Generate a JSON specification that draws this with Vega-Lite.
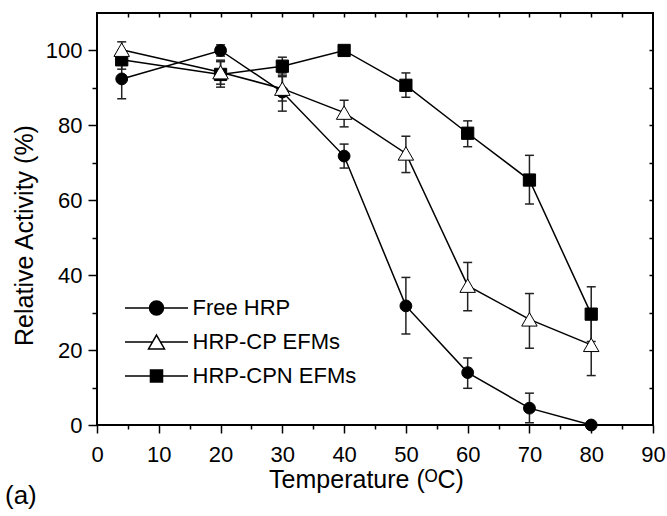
{
  "$schema": "https://vega.github.io/schema/vega-lite/v6.json",
  "width": 556,
  "height": 412,
  "autosize": "none",
  "padding": {"left": 97, "top": 13, "right": 14, "bottom": 91},
  "background": "white",
  "config": {
    "font": "Liberation Sans",
    "view": {"stroke": "black", "strokeWidth": 2},
    "axis": {"labelColor": "black", "titleColor": "black", "tickColor": "black", "domain": false, "grid": false, "labelFont": "Liberation Sans", "titleFont": "Liberation Sans", "titleFontWeight": "normal", "tickWidth": 1.5, "labelFlush": false, "labelOverlap": false},
    "legend": {"orient": "none", "legendX": 48.5, "legendY": 284, "title": null, "labelFontSize": 22, "labelFont": "Liberation Sans", "labelColor": "black", "labelLimit": 400, "symbolSize": 196, "labelOffset": 25, "rowPadding": 12, "padding": 0, "symbolOpacity": 1, "symbolStrokeColor": "black", "symbolStrokeWidth": 1.5}
  },
  "title": {"text": "(a)", "orient": "bottom", "anchor": "start", "frame": "group", "fontSize": 26, "fontWeight": "normal", "font": "Liberation Sans", "color": "black", "baseline": "alphabetic", "offset": 0, "dx": -92, "dy": 12},
  "data": {
    "values": [
      {"T": 4, "s": "Free HRP", "v": 92.4, "lo": 87.1, "hi": 97.7},
      {"T": 20, "s": "Free HRP", "v": 100, "lo": 98.5, "hi": 101.5},
      {"T": 30, "s": "Free HRP", "v": 88.9, "lo": 83.8, "hi": 94},
      {"T": 40, "s": "Free HRP", "v": 71.8, "lo": 68.6, "hi": 75},
      {"T": 50, "s": "Free HRP", "v": 31.8, "lo": 24.3, "hi": 39.4},
      {"T": 60, "s": "Free HRP", "v": 14, "lo": 9.8, "hi": 17.9},
      {"T": 70, "s": "Free HRP", "v": 4.5, "lo": 0.6, "hi": 8.5},
      {"T": 80, "s": "Free HRP", "v": 0, "lo": 0, "hi": 0},
      {"T": 4, "s": "HRP-CPN EFMs", "v": 97.5, "lo": 95, "hi": 100},
      {"T": 20, "s": "HRP-CPN EFMs", "v": 93.6, "lo": 90.2, "hi": 97},
      {"T": 30, "s": "HRP-CPN EFMs", "v": 95.8, "lo": 93.4, "hi": 98.2},
      {"T": 40, "s": "HRP-CPN EFMs", "v": 100, "lo": 99, "hi": 101},
      {"T": 50, "s": "HRP-CPN EFMs", "v": 90.7, "lo": 87.5, "hi": 94},
      {"T": 60, "s": "HRP-CPN EFMs", "v": 77.9, "lo": 74.3, "hi": 81.2},
      {"T": 70, "s": "HRP-CPN EFMs", "v": 65.4, "lo": 59, "hi": 72},
      {"T": 80, "s": "HRP-CPN EFMs", "v": 29.6, "lo": 22.3, "hi": 36.9},
      {"T": 4, "s": "HRP-CP EFMs", "v": 100.2, "lo": 98, "hi": 102.3},
      {"T": 20, "s": "HRP-CP EFMs", "v": 94.2, "lo": 91, "hi": 97.4},
      {"T": 30, "s": "HRP-CP EFMs", "v": 89.8, "lo": 86.5, "hi": 93},
      {"T": 40, "s": "HRP-CP EFMs", "v": 83.4, "lo": 79.6, "hi": 86.7},
      {"T": 50, "s": "HRP-CP EFMs", "v": 72.5, "lo": 67.4, "hi": 77.1},
      {"T": 60, "s": "HRP-CP EFMs", "v": 37.2, "lo": 30.5, "hi": 43.4},
      {"T": 70, "s": "HRP-CP EFMs", "v": 28.2, "lo": 20.5, "hi": 35.1},
      {"T": 80, "s": "HRP-CP EFMs", "v": 21.4, "lo": 13.2, "hi": 29.6}
    ]
  },
  "layer": [
    {
      "encoding": {
        "x": {"field": "T", "type": "quantitative", "scale": {"domain": [0, 90], "nice": false, "zero": false},
          "axis": {"orient": "bottom", "values": [0, 10, 20, 30, 40, 50, 60, 70, 80, 90], "tickSize": 8, "labelFontSize": 22, "labelPadding": 28, "labelBaseline": "alphabetic", "title": "Temperature (ᴼC)", "titleFontSize": 25, "titleX": 269, "titleY": 62, "titleBaseline": "alphabetic", "titleAlign": "center", "titleAnchor": "start"}}
      },
      "layer": [
        {
          "mark": {"type": "rule", "color": "#222222", "strokeWidth": 1.5},
          "encoding": {
            "y": {"field": "lo", "type": "quantitative", "scale": {"domain": [0, 110], "nice": false, "zero": false},
              "axis": {"orient": "left", "values": [0, 20, 40, 60, 80, 100], "tickSize": 9, "labelPadding": 6, "labelFontSize": 22, "labelBaseline": "middle", "title": "Relative Activity (%)", "titleFontSize": 25, "titleAngle": 270, "titleBaseline": "alphabetic", "titleX": -65, "titleY": 222, "titleAlign": "center", "titleAnchor": "start"}},
            "y2": {"field": "hi"}
          }
        },
        {
          "mark": {"type": "tick", "orient": "horizontal", "size": 9, "thickness": 1.5, "color": "#222222", "opacity": 1},
          "encoding": {"y": {"field": "lo", "type": "quantitative"}}
        },
        {
          "mark": {"type": "tick", "orient": "horizontal", "size": 9, "thickness": 1.5, "color": "#222222", "opacity": 1},
          "encoding": {"y": {"field": "hi", "type": "quantitative"}}
        },
        {
          "mark": {"type": "line", "color": "black", "strokeWidth": 1.5},
          "encoding": {"y": {"field": "v", "type": "quantitative"}, "detail": {"field": "s", "type": "nominal"}}
        },
        {
          "transform": [{"filter": "datum.s === 'Free HRP'"}],
          "mark": {"type": "point", "shape": "circle", "filled": true, "fill": "black", "size": 140, "stroke": "black", "strokeWidth": 1, "opacity": 1},
          "encoding": {"y": {"field": "v", "type": "quantitative"}}
        },
        {
          "transform": [{"filter": "datum.s === 'HRP-CPN EFMs'"}],
          "mark": {"type": "point", "shape": "square", "filled": true, "fill": "black", "size": 150, "stroke": "black", "strokeWidth": 1, "opacity": 1},
          "encoding": {"y": {"field": "v", "type": "quantitative"}}
        },
        {
          "transform": [{"filter": "datum.s === 'HRP-CP EFMs'"}],
          "mark": {"type": "point", "shape": "triangle-up", "filled": true, "fill": "white", "size": 240, "stroke": "black", "strokeWidth": 1, "opacity": 1},
          "encoding": {"y": {"field": "v", "type": "quantitative"}}
        },
        {
          "mark": {"type": "point", "filled": true, "size": 0, "opacity": 0, "strokeWidth": 1.5},
          "encoding": {
            "y": {"field": "v", "type": "quantitative"},
            "shape": {"field": "s", "type": "nominal", "scale": {"domain": ["Free HRP", "HRP-CP EFMs", "HRP-CPN EFMs"], "range": [
              "M-4.5,0L4.5,0M-1,0A1,1 0 1,0 1,0A1,1 0 1,0 -1,0",
              "M-4.5,0L-0.57,0M0.57,0L4.5,0M0,-0.99L1.14,0.99L-1.14,0.99Z",
              "M-4.5,0L4.5,0M-0.86,-0.86L0.86,-0.86L0.86,0.86L-0.86,0.86Z"
            ]}},
            "fill": {"field": "s", "type": "nominal", "scale": {"domain": ["Free HRP", "HRP-CP EFMs", "HRP-CPN EFMs"], "range": ["black", "white", "black"]}},
            "stroke": {"field": "s", "type": "nominal", "scale": {"domain": ["Free HRP", "HRP-CP EFMs", "HRP-CPN EFMs"], "range": ["black", "black", "black"]}}
          }
        }
      ]
    },
    {
      "mark": {"type": "point", "opacity": 0},
      "encoding": {
        "x": {"field": "T", "type": "quantitative", "axis": {"orient": "bottom", "values": [5, 15, 25, 35, 45, 55, 65, 75, 85], "tickSize": 4, "labels": false, "title": null}},
        "y": {"field": "v", "type": "quantitative", "axis": {"orient": "left", "values": [10, 30, 50, 70, 90], "tickSize": 5, "labels": false, "title": null}}
      }
    },
    {
      "mark": {"type": "point", "opacity": 0},
      "encoding": {
        "x": {"field": "T", "type": "quantitative", "axis": {"orient": "top", "values": [5, 10, 15, 20, 25, 30, 35, 40, 45, 50, 55, 60, 65, 70, 75, 80, 85], "tickSize": -4, "labels": false, "title": null}},
        "y": {"field": "v", "type": "quantitative", "axis": {"orient": "right", "values": [10, 20, 30, 40, 50, 60, 70, 80, 90, 100], "tickSize": -4, "labels": false, "title": null}}
      }
    }
  ],
  "resolve": {"axis": {"x": "independent", "y": "independent"}}
}
